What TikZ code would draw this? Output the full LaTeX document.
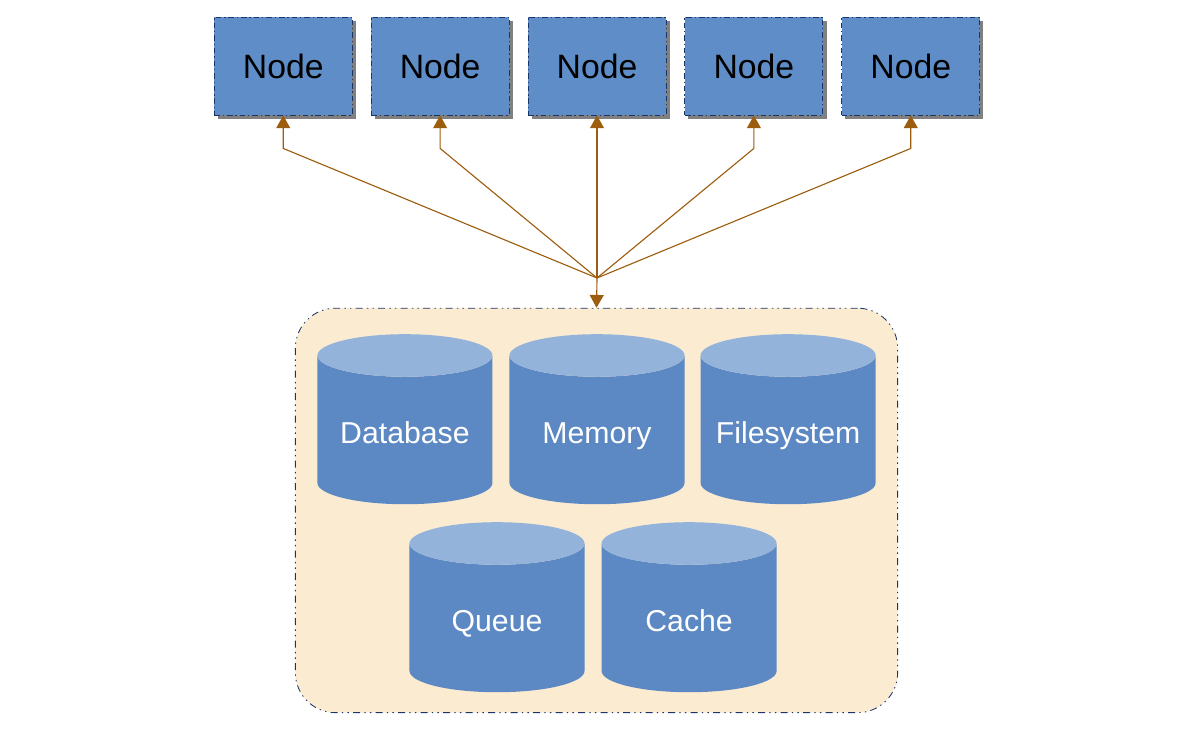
\documentclass[tikz,border=0pt]{standalone}
\usepackage{fontspec}
\setmainfont{Liberation Sans}
\usepackage{tikz}
\usetikzlibrary{shadows,arrows.meta,positioning,fit,shapes.geometric,backgrounds}

\definecolor{boxblue}{HTML}{5E8DC8}
\definecolor{cylbody}{HTML}{5C89C3}
\definecolor{cyltop}{HTML}{94B3DB}
\definecolor{storefill}{HTML}{FBEBD1}
\definecolor{edgeblue}{HTML}{1A3668}
\definecolor{linkbrown}{HTML}{9C5D0E}

\tikzset{
  worker/.style={draw=edgeblue, fill=boxblue, line width=0.6pt,
    dash pattern=on 4pt off 2pt on 1pt off 2pt,
    minimum width=3.45cm, minimum height=2.45cm, inner sep=0pt,
    font=\fontsize{24}{28}\selectfont,
    drop shadow={shadow xshift=0.09cm, shadow yshift=-0.09cm, fill=black!50, opacity=1}},
  backend/.style={cylinder, shape border rotate=90, aspect=0.28,
    cylinder uses custom fill, cylinder body fill=cylbody, cylinder end fill=cyltop,
    minimum width=4.375cm, minimum height=4.25cm, inner sep=0pt, outer sep=0pt,
    text width=3.8cm, align=center, text height=24.5pt, text depth=5pt,
    text=white, font=\fontsize{21.5}{26}\selectfont},
  store/.style={draw=edgeblue, fill=storefill, line width=0.6pt, rounded corners=1cm,
    dash pattern=on 5pt off 3pt on 1pt off 3pt on 1pt off 3pt},
  flow/.style={draw=linkbrown, line width=0.8pt,
    -{Triangle[width=0.35cm, length=0.32cm]}}
}

\begin{document}
\begin{tikzpicture}[x=0.025cm, y=-0.025cm, node distance=0.45cm]
  \useasboundingbox (0,0) rectangle (1200,734);

  % worker nodes
  \node (n3) [worker] at (597,66) {Node};
  \node (n2) [worker, left=of n3] {Node};
  \node (n1) [worker, left=of n2] {Node};
  \node (n4) [worker, right=of n3] {Node};
  \node (n5) [worker, right=of n4] {Node};

  % storage backends
  \node (mem) [backend] at (597,430) {Memory};
  \node (db) [backend, left=0.425cm of mem] {Database};
  \node (fs) [backend, right=0.4cm of mem] {Filesystem};
  \node (queue) [backend] at (497,618) {Queue};
  \node (cache) [backend, right=0.425cm of queue] {Cache};

  \begin{scope}[on background layer]
    \node (pool) [store, fit=(db)(fs)(queue)(cache), inner xsep=0.55cm, inner ysep=0.58cm, yshift=0.07cm] {};
  \end{scope}

  \coordinate (hub) at (597,278);
  \draw[flow] (hub) -- (pool.north);
  \draw[flow] (hub) -- ([yshift=-0.825cm]n1.south) -- (n1.south);
  \draw[flow] (hub) -- ([yshift=-0.825cm]n2.south) -- (n2.south);
  \draw[flow] (hub) -- (n3.south);
  \draw[flow] (hub) -- ([yshift=-0.825cm]n4.south) -- (n4.south);
  \draw[flow] (hub) -- ([yshift=-0.825cm]n5.south) -- (n5.south);
\end{tikzpicture}
\end{document}
